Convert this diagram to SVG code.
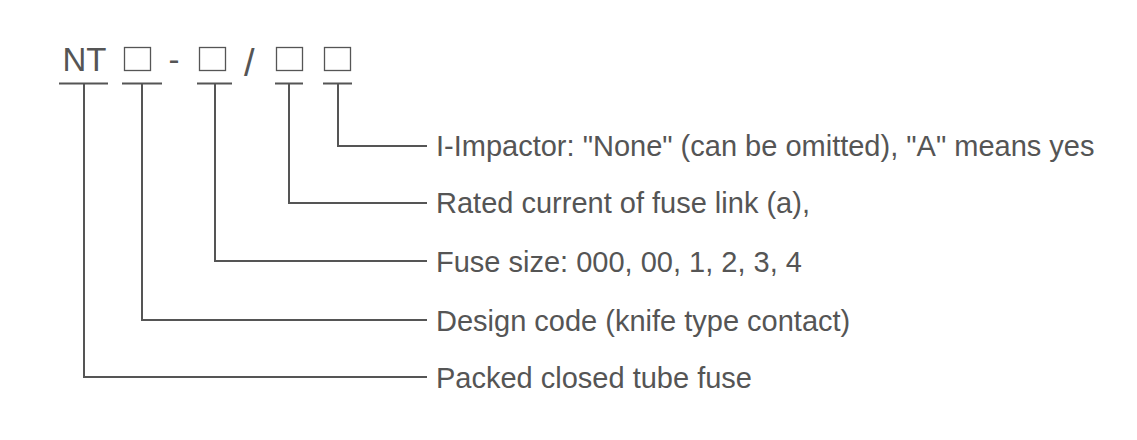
<svg xmlns="http://www.w3.org/2000/svg" width="1137" height="440" viewBox="0 0 1137 440">
<style>
.code{font-family:"Liberation Sans",Arial,sans-serif;font-size:33px;fill:#555}
.lbl{font-family:"Liberation Sans",Arial,sans-serif;font-size:29px;fill:#555}
.box{fill:none;stroke:#555;stroke-width:1.3}
.ln{fill:none;stroke:#555;stroke-width:2}
</style>
<rect width="1137" height="440" fill="#fff"/>
<g id="code">
  <text class="code" x="62.5" y="71">NT</text>
  <rect class="box" x="124.5" y="47.5" width="26" height="23"/>
  <text class="code" x="168.5" y="71">-</text>
  <rect class="box" x="199.5" y="47.5" width="26" height="23"/>
  <text class="code" x="244" y="76" style="font-size:38px">/</text>
  <rect class="box" x="276.5" y="47.5" width="26" height="23"/>
  <rect class="box" x="324.5" y="47.5" width="26" height="23"/>
</g>
<g id="connectors">
  <path class="ln" d="M59 83.5H108M122 83.5H162M197 83.5H232M275 83.5H303M323 83.5H352"/>
  <path class="ln" d="M84 83.5V377H427"/>
  <path class="ln" d="M142 83.5V320H427"/>
  <path class="ln" d="M215 83.5V261H427"/>
  <path class="ln" d="M289 83.5V203H427"/>
  <path class="ln" d="M338 83.5V146H427"/>
</g>
<g id="label-impactor"><text class="lbl" x="436" y="156">I-Impactor: "None" (can be omitted), "A" means yes</text></g>
<g id="label-rated"><text class="lbl" x="436" y="213">Rated current of fuse link (a),</text></g>
<g id="label-size"><text class="lbl" x="436" y="272">Fuse size: 000, 00, 1, 2, 3, 4</text></g>
<g id="label-design"><text class="lbl" x="436" y="331">Design code (knife type contact)</text></g>
<g id="label-packed"><text class="lbl" x="436" y="388">Packed closed tube fuse</text></g>
</svg>
